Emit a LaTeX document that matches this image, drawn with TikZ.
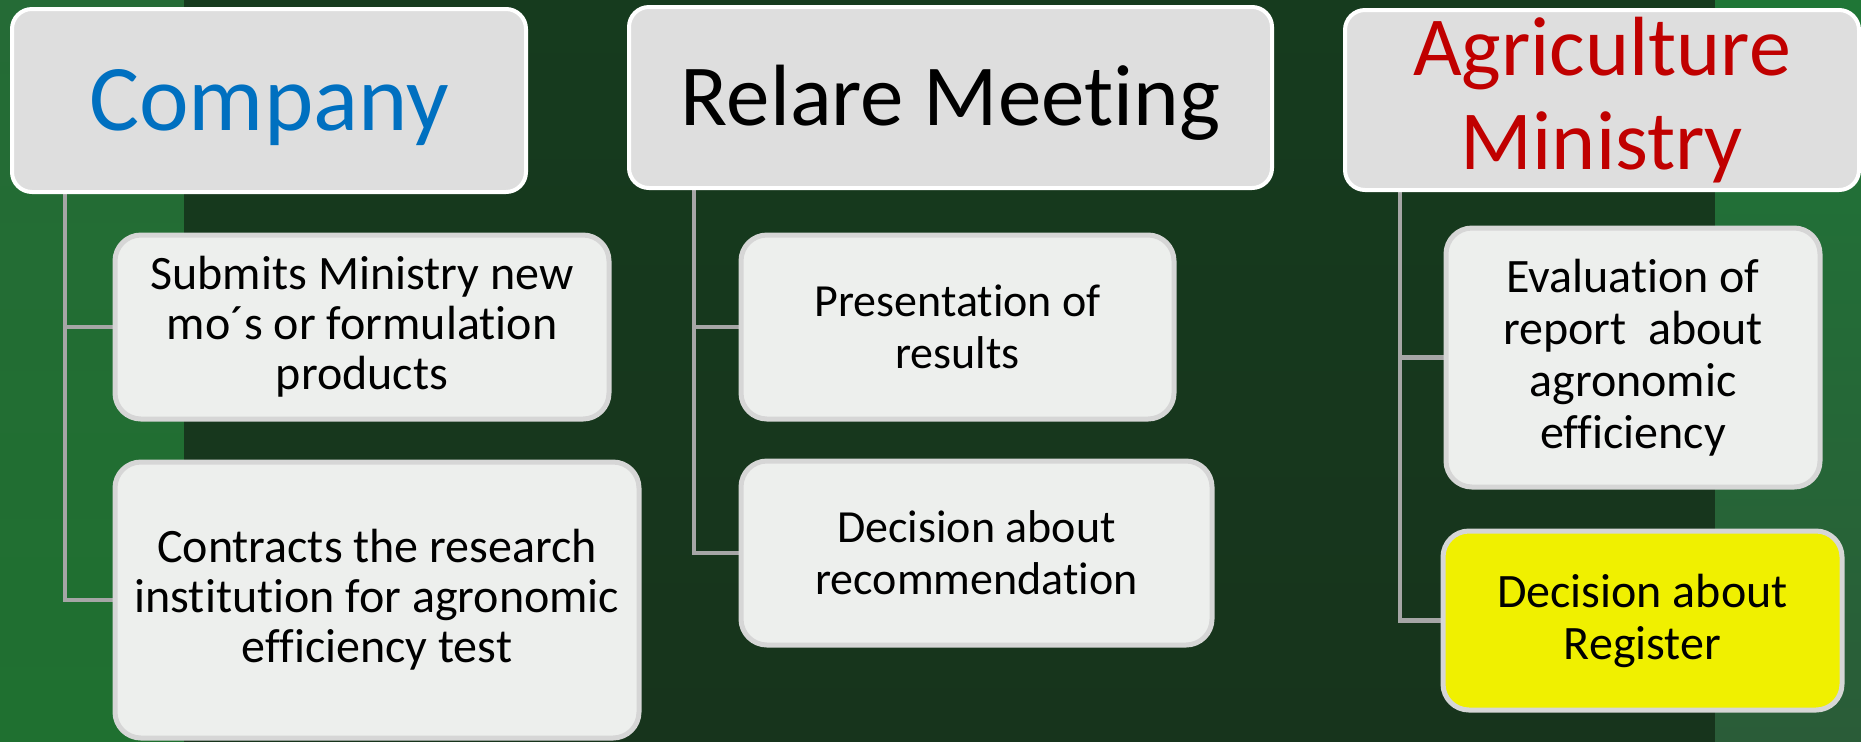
\documentclass[tikz,border=0pt]{standalone}
\usepackage{fontspec}
\setmainfont[Ligatures=NoCommon]{Carlito}
\usetikzlibrary{backgrounds}
\definecolor{headfill}{HTML}{DEDEDE}
\definecolor{subfill}{HTML}{EDEFED}
\definecolor{subedge}{HTML}{D6D6D6}
\definecolor{yelfill}{HTML}{F0F000}
\definecolor{connc}{HTML}{A6A6A6}
\definecolor{compblue}{HTML}{0070C0}
\definecolor{minred}{HTML}{C00000}
\definecolor{bandLtop}{HTML}{256B36}
\definecolor{bandLbot}{HTML}{1F7030}
\definecolor{midtop}{HTML}{163B1E}
\definecolor{midbot}{HTML}{17341C}
\definecolor{bandRtop}{HTML}{1F7636}
\definecolor{bandRbot}{HTML}{2A5C38}
\begin{document}
\begin{tikzpicture}[x=0.5pt,y=-0.5pt,
  headbox/.style={draw=white, line width=2pt, fill=headfill, rounded corners=10pt, inner sep=0pt, align=center},
  subbox/.style={draw=subedge, line width=2.5pt, fill=subfill, rounded corners=13pt, inner sep=0pt, align=center, font=\fontsize{24pt}{25pt}\selectfont},
  conn/.style={draw=connc, line width=2.2pt}]
\useasboundingbox (0,0) rectangle (1861,741);

% header boxes
\node[headbox, minimum width=257pt, minimum height=91.5pt, text=compblue,
      font=\fontsize{47pt}{50pt}\selectfont, text height=30pt, text depth=0pt]
      (company) at (269,100.5) {Company};
\node[headbox, minimum width=321.5pt, minimum height=90.5pt,
      font=\fontsize{43.5pt}{46pt}\selectfont, text height=28pt, text depth=0pt]
      (relare) at (950.5,97.5) {Relare Meeting};
\node[headbox, minimum width=257pt, minimum height=90pt, text=minred,
      font=\fontsize{42pt}{47pt}\selectfont]
      (agri) at (1602,100) {Agriculture\\Ministry};

% child boxes
\node[subbox, minimum width=247pt, minimum height=92pt] (submits) at (362,327)
  {Submits Ministry new\\mo´s or formulation\\products};
\node[subbox, minimum width=262pt, minimum height=138pt] (contracts) at (377,600)
  {Contracts the research\\institution for agronomic\\efficiency test};
\node[subbox, minimum width=216.5pt, minimum height=92pt, font=\fontsize{23pt}{26pt}\selectfont]
  (present) at (957.5,327) {Presentation of\\results};
\node[subbox, minimum width=235.5pt, minimum height=92pt, font=\fontsize{23pt}{26pt}\selectfont]
  (decrec) at (976.5,553) {Decision about\\recommendation};
\node[subbox, minimum width=187pt, minimum height=129.5pt, font=\fontsize{24pt}{26pt}\selectfont]
  (eval) at (1633,357.5) {Evaluation of\\report\ \ about\\agronomic\\efficiency};
\node[subbox, fill=yelfill, minimum width=199.5pt, minimum height=89.5pt, font=\fontsize{24pt}{26pt}\selectfont]
  (decreg) at (1642.5,620.5) {Decision about\\Register};

\coordinate (tA) at (65,0);
\coordinate (tB) at (694,0);
\coordinate (tC) at (1400,0);

\begin{scope}[on background layer]
  \shade[top color=bandLtop, bottom color=bandLbot] (0,0) rectangle (184,741);
  \shade[top color=midtop, bottom color=midbot] (184,0) rectangle (1715,741);
  \shade[top color=bandRtop, bottom color=bandRbot] (1715,0) rectangle (1861,741);
  \draw[conn] (company.south -| tA) |- (submits.west);
  \draw[conn] (company.south -| tA) |- (contracts.west);
  \draw[conn] (relare.south -| tB) |- (present.west);
  \draw[conn] (relare.south -| tB) |- (decrec.west);
  \draw[conn] (agri.south -| tC) |- (eval.west);
  \draw[conn] (agri.south -| tC) |- (decreg.west);
\end{scope}
\end{tikzpicture}
\end{document}
